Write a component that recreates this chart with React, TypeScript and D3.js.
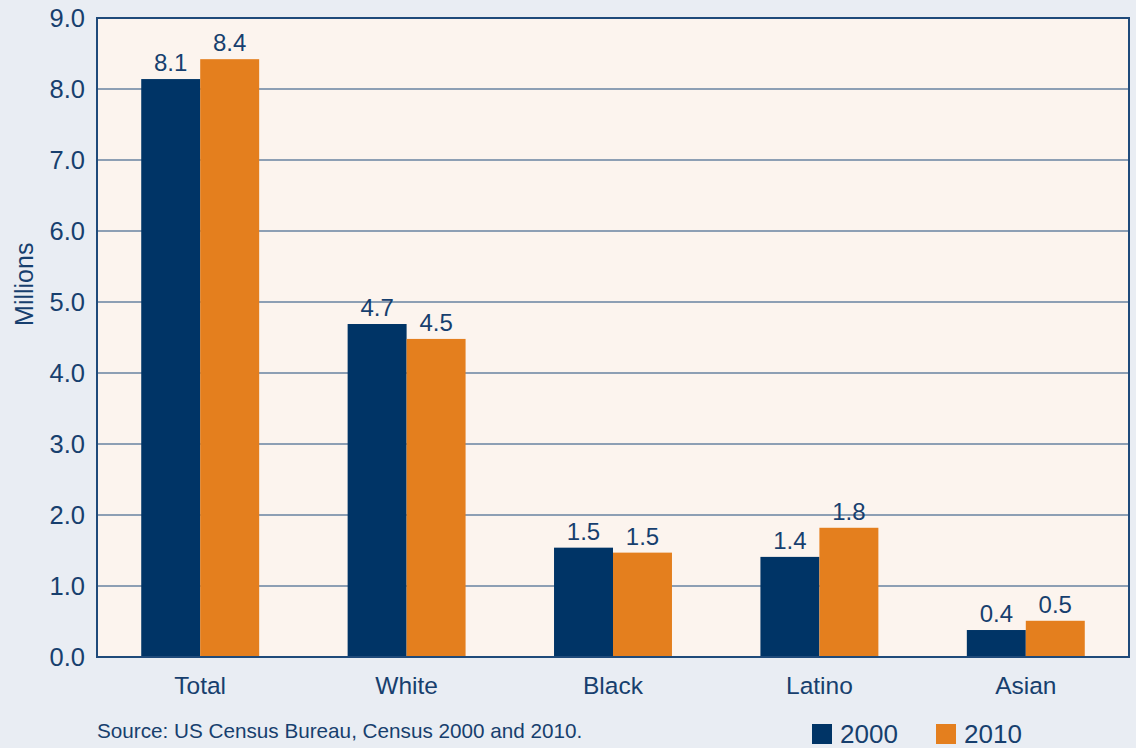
import React from "react";
import * as d3 from "d3";

// Population by group, in millions
const categories = ["Total", "White", "Black", "Latino", "Asian"];
const years = ["2000", "2010"];
const values2000 = [8.14, 4.69, 1.54, 1.41, 0.38];
const values2010 = [8.42, 4.48, 1.47, 1.82, 0.51];
const yTicks = [0, 1, 2, 3, 4, 5, 6, 7, 8, 9];
const sourceNote = "Source: US Census Bureau, Census 2000 and 2010.";

const W = 1136;
const H = 748;
const margin = { left: 97, right: 7, top: 18, bottom: 91 };

const NAVY = "#003466";
const ORANGE = "#e47f1e";
const TEXT = "#173f6e";
const LINE = "#1f4a7a";
const FONT = "'Liberation Sans', Arial, Helvetica, sans-serif";

export default function App() {
  const x0 = d3
    .scaleBand<string>()
    .domain(categories)
    .range([margin.left, W - margin.right])
    .paddingInner(0)
    .paddingOuter(0);
  const x1 = d3
    .scaleBand<string>()
    .domain(years)
    .range([0, x0.bandwidth()])
    .paddingInner(0)
    .paddingOuter(0.75);
  const y = d3
    .scaleLinear()
    .domain([0, 9])
    .range([H - margin.bottom, margin.top]);

  const series = [
    { year: "2000", values: values2000, color: NAVY },
    { year: "2010", values: values2010, color: ORANGE },
  ];
  const fmt = d3.format(".1f");
  const plotW = W - margin.left - margin.right;
  const plotH = H - margin.top - margin.bottom;

  return (
    <svg
      width={W}
      height={H}
      style={{ position: "absolute", left: 0, top: 0 }}
      fontFamily={FONT}
    >
      <rect x={0} y={0} width={W} height={H} fill="#e9edf3" />
      <rect x={margin.left} y={margin.top} width={plotW} height={plotH} fill="#fcf4ee" />

      {/* gridlines */}
      {yTicks.map((t) => (
        <line
          key={t}
          x1={margin.left}
          x2={W - margin.right}
          y1={y(t)}
          y2={y(t)}
          stroke={LINE}
          strokeWidth={1}
        />
      ))}

      {/* bars */}
      {series.map((s) =>
        categories.map((c, i) => (
          <rect
            key={s.year + c}
            x={(x0(c) ?? 0) + (x1(s.year) ?? 0)}
            y={y(s.values[i])}
            width={x1.bandwidth()}
            height={y(0) - y(s.values[i])}
            fill={s.color}
          />
        ))
      )}

      {/* value labels */}
      {series.map((s) =>
        categories.map((c, i) => (
          <text
            key={"l" + s.year + c}
            x={(x0(c) ?? 0) + (x1(s.year) ?? 0) + x1.bandwidth() / 2}
            y={y(s.values[i]) - 8}
            textAnchor="middle"
            fontSize={24}
            fill={TEXT}
          >
            {fmt(s.values[i])}
          </text>
        ))
      )}

      {/* frame */}
      <rect
        x={margin.left}
        y={margin.top}
        width={plotW}
        height={plotH}
        fill="none"
        stroke={LINE}
        strokeWidth={2}
      />

      {/* y tick labels */}
      {yTicks.map((t) => (
        <text
          key={"t" + t}
          x={margin.left - 12}
          y={y(t)}
          dy="0.36em"
          textAnchor="end"
          fontSize={25.5}
          fill={TEXT}
        >
          {fmt(t)}
        </text>
      ))}

      {/* y axis title */}
      <text
        transform={`translate(33,${y(5.25)}) rotate(-90)`}
        textAnchor="middle"
        fontSize={25}
        fill={TEXT}
      >
        Millions
      </text>

      {/* category labels */}
      {categories.map((c) => (
        <text
          key={"c" + c}
          x={(x0(c) ?? 0) + x0.bandwidth() / 2}
          y={H - margin.bottom + 37}
          textAnchor="middle"
          fontSize={24.5}
          fill={TEXT}
        >
          {c}
        </text>
      ))}

      {/* source note */}
      <text x={margin.left} y={738} fontSize={20.7} fill={TEXT}>
        {sourceNote}
      </text>

      {/* legend */}
      {series.map((s, i) => (
        <g key={"lg" + s.year} transform={`translate(${812 + i * 124},724)`}>
          <rect x={0} y={0} width={20} height={20} fill={s.color} />
          <text x={28} y={19} fontSize={26} fill={TEXT}>
            {s.year}
          </text>
        </g>
      ))}
    </svg>
  );
}
